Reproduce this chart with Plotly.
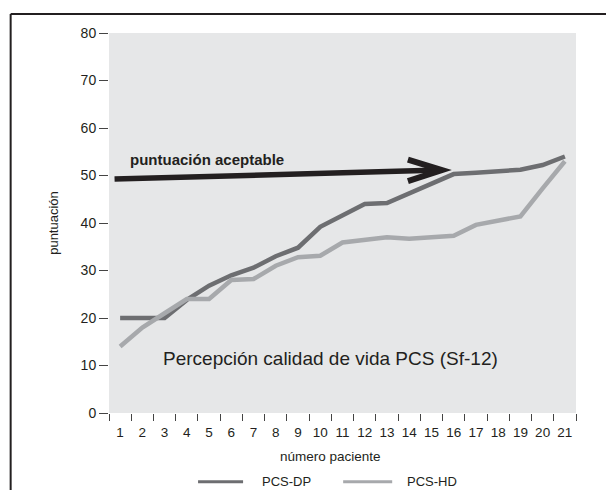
import plotly.graph_objects as go

pacientes = [str(i) for i in range(1, 22)]
pcs_dp = [20, 20, 20, 23.8, 26.8, 29, 30.6, 33, 34.8, 39.2, 41.6, 44, 44.2, 46.3, 48.4, 50.3, 50.6, 50.9, 51.2, 52.2, 54]
pcs_hd = [14, 18, 21, 24, 24, 28, 28.2, 31, 32.8, 33.1, 35.9, 36.5, 37, 36.7, 37, 37.3, 39.6, 40.5, 41.4, 47.3, 53]
y_ticks = [0, 10, 20, 30, 40, 50, 60, 70, 80]
series_names = ["PCS-DP", "PCS-HD"]

# arrow "puntuación aceptable" (category index, value)
arrow_start = (-0.25, 49.25)
arrow_end = (14.47, 51.15)

FONT = "Liberation Sans, Arial, sans-serif"
DARK = "#231f20"
C_DP = "#6d6e71"
C_HD = "#a7a9ac"

fig = go.Figure()
fig.add_trace(go.Scatter(x=pacientes, y=pcs_dp, mode="lines", name=series_names[0],
                         line=dict(color=C_DP, width=4.5), showlegend=False))
fig.add_trace(go.Scatter(x=pacientes, y=pcs_hd, mode="lines", name=series_names[1],
                         line=dict(color=C_HD, width=4.5), showlegend=False))

# arrow shaft
fig.add_shape(type="line", xref="x", yref="y",
              x0=arrow_start[0], y0=arrow_start[1], x1=arrow_end[0] - 0.05, y1=arrow_end[1],
              line=dict(color=DARK, width=5.5))
# arrow head (open chevron)
fig.add_shape(type="path", xref="x", yref="y", xsizemode="pixel", ysizemode="pixel",
              xanchor=arrow_end[0], yanchor=arrow_end[1],
              path="M -34,10.5 L 0,0 L -34,-11", line=dict(color=DARK, width=6))

fig.add_annotation(text="puntuación aceptable", xref="paper", yref="y", x=0.21, y=53.3,
                   showarrow=False, xanchor="center", yanchor="middle",
                   font=dict(family=FONT, size=15, color=DARK, weight="bold"))
fig.add_annotation(text="Percepción calidad de vida PCS (Sf-12)", xref="paper", yref="y",
                   x=0.4746, y=11.5, showarrow=False, xanchor="center", yanchor="middle",
                   font=dict(family=FONT, size=19, color=DARK))
fig.add_annotation(text="número paciente", xref="paper", yref="paper", x=0.4753, y=-0.115,
                   showarrow=False, xanchor="center", yanchor="middle",
                   font=dict(family=FONT, size=13.5, color=DARK))

# manual legend
legend_y = -0.1808
for name, color, lx0, lx1, tx in [(series_names[0], C_DP, 0.1907, 0.2871, 0.3236),
                                  (series_names[1], C_HD, 0.5014, 0.6064, 0.6342)]:
    fig.add_shape(type="line", xref="paper", yref="paper", x0=lx0, x1=lx1, y0=legend_y, y1=legend_y,
                  line=dict(color=color, width=3))
    fig.add_annotation(text=name, xref="paper", yref="paper", x=tx, y=legend_y,
                       showarrow=False, xanchor="left", yanchor="middle",
                       font=dict(family=FONT, size=13, color=DARK))

# frame (top and left)
fig.add_shape(type="line", xref="paper", yref="paper", x0=-0.2106, y0=1.05, x1=1.2, y1=1.05,
              line=dict(color=DARK, width=2))
fig.add_shape(type="line", xref="paper", yref="paper", x0=-0.2106, y0=1.05, x1=-0.2106, y1=-0.3,
              line=dict(color=DARK, width=2))

# page body has an 8px margin: figure is 598x482 so that the page is exactly 614x498
fig.update_layout(
    width=598, height=482,
    margin=dict(l=101, r=30.3, t=25.3, b=76.7),
    paper_bgcolor="white", plot_bgcolor="#e6e7e8",
    font=dict(family=FONT, size=13, color=DARK),
    showlegend=False,
    xaxis=dict(type="category", tickson="boundaries", ticks="outside", ticklen=7,
               tickwidth=1.3, tickcolor="#444", showgrid=False, zeroline=False,
               showline=False, range=[-0.5, 20.5], tickangle=0, ticklabelstandoff=9,
               tickfont=dict(size=13.5, color=DARK)),
    yaxis=dict(range=[0, 80], tickvals=y_ticks, ticks="outside", ticklen=9, tickwidth=1.3,
               tickcolor="#444", showgrid=False, zeroline=False, showline=False,
               tickfont=dict(size=14, color=DARK),
               title=dict(text="puntuación", font=dict(size=13, color=DARK), standoff=19)),
)

fig.write_html("out.html")
